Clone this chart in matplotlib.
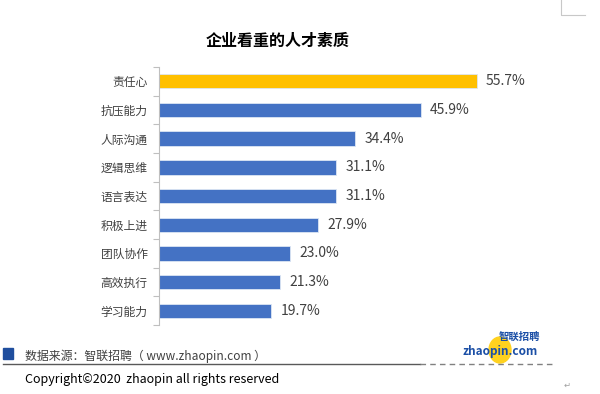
import matplotlib.pyplot as plt
from matplotlib.lines import Line2D
from matplotlib.patches import Ellipse, Rectangle

plt.rcParams["font.family"] = ["Noto Sans CJK SC", "DejaVu Sans"]

# Dati
categorie = ["责任心", "抗压能力", "人际沟通", "逻辑思维", "语言表达",
             "积极上进", "团队协作", "高效执行", "学习能力"]
valori = [55.7, 45.9, 34.4, 31.1, 31.1, 27.9, 23.0, 21.3, 19.7]
etichette = ["55.7%", "45.9%", "34.4%", "31.1%", "31.1%",
             "27.9%", "23.0%", "21.3%", "19.7%"]

blu = "#4472C4"
giallo = "#FFC000"
grigio = "#404040"

fig = plt.figure(figsize=(6, 3.94), dpi=100)
ax = fig.add_axes([0.2645, 0.175, 0.571, 0.655])

y = list(range(len(categorie)))
colori = [giallo] + [blu] * (len(categorie) - 1)
ax.barh(y, valori, height=0.5, color=colori, edgecolor="#DCE6F4", linewidth=0.6)
for yi, v, t in zip(y, valori, etichette):
    ax.text(v + 1.6, yi, t, va="center", ha="left", fontsize=10,
            color=grigio, clip_on=False)

ax.set_xlim(0, 60)
ax.set_ylim(len(categorie) - 0.5, -0.5)
ax.set_yticks(y)
ax.set_yticklabels(categorie, fontsize=8.5, color=grigio)
ax.set_yticks([i - 0.5 for i in range(len(categorie) + 1)], minor=True)
ax.tick_params(axis="y", which="major", length=0, pad=8)
ax.tick_params(axis="y", which="minor", length=4, color="#BFBFBF", width=0.8)
ax.set_xticks([])
for s in ["top", "right", "bottom"]:
    ax.spines[s].set_visible(False)
ax.spines["left"].set_color("#BFBFBF")
ax.spines["left"].set_linewidth(0.8)

fig.text(278 / 600, 1 - 41 / 394, "企业看重的人才素质", ha="center", va="center",
         fontsize=11.5, fontweight="bold", color="black")

# Footer
fig.patches.append(Rectangle((3 / 600, 1 - 359 / 394), 10 / 600, 11 / 394,
                             transform=fig.transFigure, color="#1F4E9E"))
fig.text(25 / 600, 1 - 356 / 394, "数据来源：智联招聘（ www.zhaopin.com ）",
         ha="left", va="center", fontsize=8.6, color=grigio)
fig.lines.append(Line2D([3 / 600, 420 / 600], [1 - 364 / 394] * 2,
                        transform=fig.transFigure, color="#595959", lw=1))
fig.lines.append(Line2D([420 / 600, 555 / 600], [1 - 364 / 394] * 2,
                        transform=fig.transFigure, color="#808080", lw=1,
                        linestyle=(0, (4, 3))))
fig.text(25 / 600, 1 - 379 / 394, "Copyright©2020  zhaopin all rights reserved",
         ha="left", va="center", fontsize=9, color="black")

# Logo
fig.patches.append(Ellipse((500 / 600, 1 - 350 / 394), 22 / 600, 26 / 394,
                           transform=fig.transFigure, color="#FFD21F"))
fig.text(463 / 600, 1 - 351 / 394, "zhaopin.com", ha="left", va="center",
         fontsize=8.5, fontweight="bold", style="italic", color="#1B4FA6")
fig.text(519 / 600, 1 - 337 / 394, "智联招聘", ha="center", va="center",
         fontsize=7.5, fontweight="bold", color="#1B4FA6")

# Segni d'angolo
fig.lines.append(Line2D([561 / 600, 561 / 600, 585 / 600], [1.0, 1 - 15 / 394, 1 - 15 / 394],
                        transform=fig.transFigure, color="#C8C8C8", lw=0.8))
fig.text(567 / 600, 1 - 385 / 394, "↵", ha="center", va="center",
         fontsize=6, color="#A0A0A0")

fig.savefig("out.png", dpi=100)
